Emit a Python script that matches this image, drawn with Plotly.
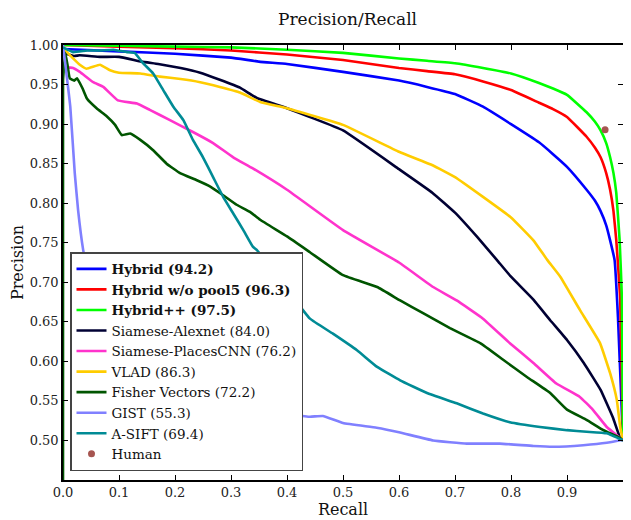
import plotly.graph_objects as go

# recall / precision
hybrid_r = [0, 0.1, 0.2, 0.3, 0.35, 0.4, 0.5, 0.6, 0.65, 0.7, 0.75, 0.8, 0.85, 0.875, 0.9, 0.935, 0.95, 0.96, 0.97,
            0.977, 0.985, 0.991, 1.0]
hybrid_p = [0.995, 0.992, 0.989, 0.984, 0.979, 0.976, 0.966, 0.955, 0.947, 0.938, 0.922, 0.90, 0.877, 0.862, 0.846,
            0.817, 0.803, 0.79, 0.772, 0.753, 0.728, 0.656, 0.50]

nopool_r = [0, 0.1, 0.2, 0.3, 0.4, 0.5, 0.6, 0.65, 0.7, 0.75, 0.8, 0.85, 0.875, 0.9, 0.935, 0.95, 0.96, 0.97, 0.977,
            0.983, 0.988, 0.995, 1.0]
nopool_p = [1.0, 0.998, 0.996, 0.993, 0.988, 0.981, 0.971, 0.967, 0.963, 0.954, 0.943, 0.927, 0.919, 0.909, 0.884,
            0.870, 0.858, 0.838, 0.817, 0.79, 0.753, 0.68, 0.50]

hybridpp_r = [0, 0.1, 0.2, 0.3, 0.4, 0.5, 0.6, 0.65, 0.7, 0.75, 0.8, 0.85, 0.875, 0.9, 0.935, 0.95, 0.96, 0.97, 0.977,
              0.983, 0.988, 0.994, 0.998, 1.0]
hybridpp_p = [1.0, 0.999, 0.998, 0.997, 0.994, 0.99, 0.983, 0.98, 0.977, 0.971, 0.964, 0.952, 0.945, 0.937, 0.915,
              0.903, 0.892, 0.876, 0.858, 0.838, 0.813, 0.753, 0.68, 0.50]

alex_r = [0, 0.01, 0.02, 0.03, 0.066, 0.1, 0.14, 0.17, 0.21, 0.245, 0.28, 0.316, 0.346, 0.4, 0.5, 0.6, 0.66, 0.7,
          0.74, 0.775, 0.8, 0.84, 0.87, 0.9, 0.93, 0.96, 0.982, 0.995, 1.0]
alex_p = [0.99, 0.988, 0.986, 0.987, 0.985, 0.985, 0.979, 0.976, 0.971, 0.965, 0.956, 0.946, 0.933, 0.92, 0.892, 0.843,
          0.813, 0.788, 0.757, 0.728, 0.707, 0.678, 0.652, 0.627, 0.598, 0.564, 0.529, 0.503, 0.50]

places_r = [0, 0.018, 0.03, 0.054, 0.072, 0.098, 0.132, 0.155, 0.191, 0.232, 0.268, 0.304, 0.339, 0.4, 0.5, 0.6,
            0.661, 0.703, 0.75, 0.798, 0.84, 0.881, 0.923, 0.946, 0.971, 0.995, 1.0]
places_p = [0.972, 0.971, 0.966, 0.953, 0.947, 0.93, 0.926, 0.918, 0.905, 0.89, 0.876, 0.858, 0.844, 0.817, 0.766,
            0.725, 0.694, 0.677, 0.654, 0.623, 0.598, 0.572, 0.555, 0.539, 0.517, 0.503, 0.50]

vlad_r = [0, 0.018, 0.03, 0.042, 0.066, 0.084, 0.1, 0.138, 0.173, 0.21, 0.245, 0.28, 0.316, 0.352, 0.4, 0.5, 0.6,
          0.66, 0.7, 0.75, 0.8, 0.84, 0.865, 0.888, 0.923, 0.959, 0.977, 0.989, 0.995, 1.0]
vlad_p = [0.996, 0.983, 0.975, 0.970, 0.975, 0.968, 0.965, 0.964, 0.96, 0.957, 0.953, 0.947, 0.94, 0.928, 0.92, 0.899,
          0.865, 0.848, 0.833, 0.808, 0.782, 0.753, 0.728, 0.707, 0.665, 0.623, 0.585, 0.551, 0.517, 0.50]

fisher_r = [0, 0, 0.004, 0.008, 0.012, 0.02, 0.025, 0.035, 0.043, 0.06, 0.078, 0.093, 0.105, 0.12, 0.138, 0.161,
            0.185, 0.209, 0.239, 0.263, 0.286, 0.31, 0.334, 0.352, 0.4, 0.441, 0.5, 0.561, 0.602, 0.643, 0.691,
            0.745, 0.786, 0.829, 0.87, 0.9, 0.935, 0.965, 0.995, 1.0]
fisher_p = [0.45, 0.955, 0.99, 0.975, 0.958, 0.955, 0.958, 0.945, 0.932, 0.92, 0.91, 0.899, 0.886, 0.888, 0.88, 0.867,
            0.85, 0.838, 0.829, 0.821, 0.81, 0.798, 0.789, 0.779, 0.758, 0.738, 0.709, 0.694, 0.677, 0.661, 0.642,
            0.623, 0.602, 0.58, 0.56, 0.539, 0.526, 0.513, 0.503, 0.50]

gist_r = [0, 0.013, 0.021, 0.027, 0.036, 0.05, 0.07, 0.1, 0.15, 0.2, 0.3, 0.4, 0.441, 0.464, 0.5, 0.56, 0.602,
          0.661, 0.721, 0.78, 0.84, 0.875, 0.929, 0.971, 1.0]
gist_p = [1.0, 0.922, 0.838, 0.791, 0.741, 0.69, 0.64, 0.60, 0.57, 0.555, 0.54, 0.533, 0.530, 0.531, 0.522, 0.516,
          0.51, 0.50, 0.496, 0.496, 0.493, 0.492, 0.494, 0.497, 0.501]

asift_r = [0, 0.018, 0.043, 0.066, 0.09, 0.114, 0.128, 0.143, 0.161, 0.179, 0.197, 0.215, 0.232, 0.25, 0.268, 0.286,
           0.304, 0.322, 0.339, 0.346, 0.39, 0.441, 0.482, 0.525, 0.561, 0.602, 0.65, 0.703, 0.75, 0.798, 0.852,
           0.9, 0.935, 0.971, 1.0]
asift_p = [0.997, 0.991, 0.993, 0.993, 0.994, 0.991, 0.99, 0.977, 0.964, 0.943, 0.922, 0.905, 0.88, 0.858, 0.833,
           0.808, 0.787, 0.766, 0.745, 0.741, 0.70, 0.654, 0.635, 0.614, 0.593, 0.576, 0.56, 0.547, 0.534, 0.523,
           0.517, 0.513, 0.511, 0.509, 0.50]

human_r = [0.968]
human_p = [0.893]

series = [
    ("<b>Hybrid (94.2)</b>", hybrid_r, hybrid_p, "#0000ff"),
    ("<b>Hybrid w/o pool5 (96.3)</b>", nopool_r, nopool_p, "#ff0000"),
    ("<b>Hybrid++ (97.5)</b>", hybridpp_r, hybridpp_p, "#00ff00"),
    ("Siamese-Alexnet (84.0)", alex_r, alex_p, "#000033"),
    ("Siamese-PlacesCNN (76.2)", places_r, places_p, "#ff33cc"),
    ("VLAD (86.3)", vlad_r, vlad_p, "#ffcc00"),
    ("Fisher Vectors (72.2)", fisher_r, fisher_p, "#005500"),
    ("GIST (55.3)", gist_r, gist_p, "#8080ff"),
    ("A-SIFT (69.4)", asift_r, asift_p, "#008b95"),
]

fig = go.Figure()
for name, r, p, col in series:
    fig.add_trace(go.Scatter(x=r, y=p, name=name, mode='lines',
                             line=dict(color=col, width=2.6, shape='spline', smoothing=0.3)))
fig.add_trace(go.Scatter(x=human_r, y=human_p, name="Human", mode='markers',
                         marker=dict(color="#a65550", size=7)))

# page body has an 8px margin, so the figure is 8px smaller than the window
font = "DejaVu Serif, Liberation Serif, serif"
fig.update_layout(
    width=623, height=512,
    margin=dict(l=55, r=8, t=37, b=40, autoexpand=False),
    paper_bgcolor='white', plot_bgcolor='white',
    font=dict(family=font, size=13, color='#222'),
    title=dict(text="Precision/Recall", x=0.545, xanchor='center', y=0.99, yanchor='top',
               font=dict(size=17, color='#111')),
    legend=dict(x=0.0125, y=0.524, xanchor='left', yanchor='top',
                bgcolor='white', bordercolor='#444', borderwidth=1.5,
                font=dict(size=13.5, color='#111'), tracegroupgap=0),
)
fig.update_xaxes(range=[0, 1], tickvals=[i / 10 for i in range(11)], tickformat='.1f', automargin=False,
                 showgrid=False, zeroline=False, showline=True, linecolor='black', linewidth=1.5,
                 mirror='ticks', ticks='inside', ticklen=5, tickcolor='black',
                 title=dict(text="Recall", font=dict(size=16, color='#111'), standoff=0))
fig.update_yaxes(range=[0.45, 1.0], tickvals=[0.5 + 0.05 * i for i in range(11)], tickformat='.2f', automargin=False,
                 showgrid=False, zeroline=False, showline=True, linecolor='black', linewidth=1.5,
                 mirror='ticks', ticks='inside', ticklen=5, tickcolor='black',
                 title=dict(text="Precision", font=dict(size=16, color='#111'), standoff=4))

fig.write_html("out.html")
